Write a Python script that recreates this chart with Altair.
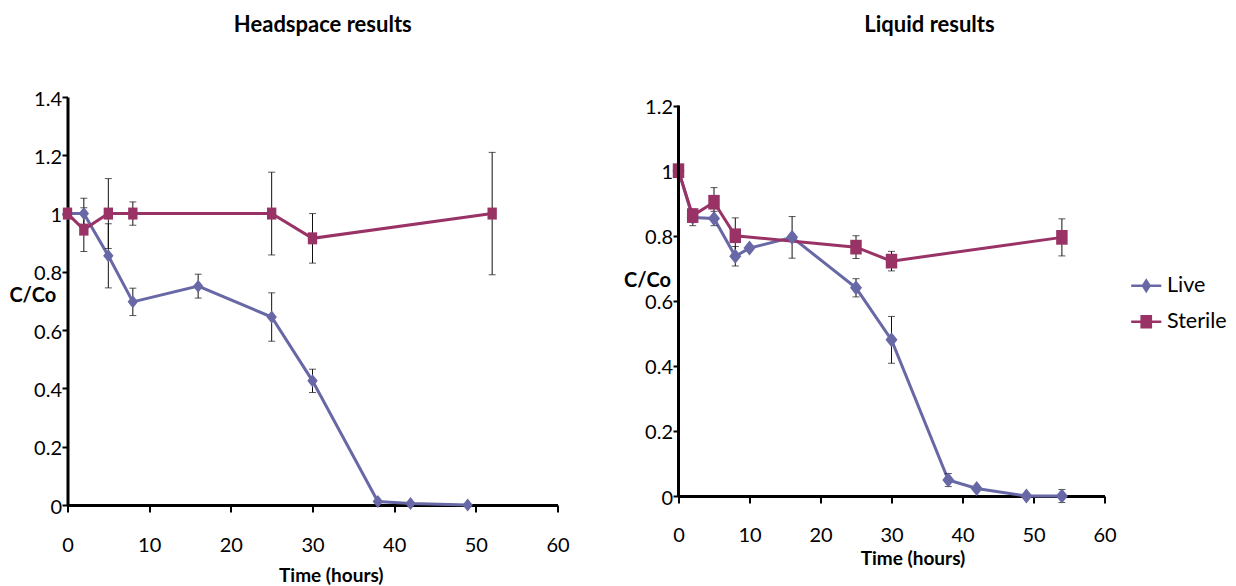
import altair as alt
import pandas as pd

# ---------------- data ----------------
# Headspace results
hs_live_t = [0, 2, 5, 8, 16, 25, 30, 38, 42, 49]
hs_live_v = [1.0, 1.0, 0.855, 0.697, 0.751, 0.645, 0.426, 0.012, 0.005, 0.0]
hs_live_e = [0, 0.053, 0.11, 0.047, 0.041, 0.083, 0.04, 0, 0, 0]
hs_ster_t = [0, 2, 5, 8, 25, 30, 52]
hs_ster_v = [1.0, 0.945, 1.0, 1.0, 1.0, 0.915, 1.0]
hs_ster_e = [0, 0.075, 0.12, 0.04, 0.142, 0.085, 0.21]

# Liquid results
lq_live_t = [0, 2, 5, 8, 10, 16, 25, 30, 38, 42, 49, 54]
lq_live_v = [1.0, 0.856, 0.853, 0.737, 0.762, 0.795, 0.64, 0.48, 0.049, 0.023, 0.0, 0.0]
lq_live_e = [0, 0.025, 0.022, 0.03, 0, 0.064, 0.028, 0.072, 0.02, 0, 0.005, 0.02]
lq_ster_t = [0, 2, 5, 8, 25, 30, 54]
lq_ster_v = [1.0, 0.862, 0.903, 0.80, 0.765, 0.722, 0.795]
lq_ster_e = [0.01, 0.02, 0.045, 0.055, 0.035, 0.03, 0.057]

series_names = ["Live", "Sterile"]
x_ticks = [0, 10, 20, 30, 40, 50, 60]
hs_y_ticks = [0, 0.2, 0.4, 0.6, 0.8, 1.0, 1.2, 1.4]
lq_y_ticks = [0, 0.2, 0.4, 0.6, 0.8, 1.0, 1.2]

# ---------------- styles ----------------
LIVE_C = "#6868A6"
STER_C = "#993366"
FONT = "Lato"
DIAMOND = "M0,-1L0.8,0L0,1L-0.8,0Z"
SQUARE = "M-0.78,-1H0.78V1H-0.78Z"
LEG_LIVE = "M-1.88,-0.17H-0.5L0,-0.94L0.5,-0.17H1.88V0.17H0.5L0,0.94L-0.5,0.17H-1.88Z"
LEG_STER = "M-1.88,-0.17H-0.73V-0.83H0.73V-0.17H1.88V0.17H0.73V0.83H-0.73V0.17H-1.88Z"


def frame(t, v, e, name):
    df = pd.DataFrame({"t": t, "v": v, "e": e})
    df["series"] = name
    df["lo"] = df["v"] - df["e"]
    df["hi"] = df["v"] + df["e"]
    return df


def panel(live, ster, width, height, ydom, yvals, title, title_dx, title_offset,
          x_label_pad, x_title_x, x_title_y, y_title_x, y_title_y,
          dsize, ssize, draw_axis_rule, with_legend):
    both = pd.concat([live, ster], ignore_index=True)
    errs = both[both["e"] > 0]
    xs = alt.X("t:Q", scale=alt.Scale(domain=[0, 60], nice=False),
               axis=alt.Axis(values=x_ticks, title="Time (hours)", tickSize=7,
                             labelPadding=x_label_pad, labelFlush=False,
                             titleX=x_title_x, titleY=x_title_y,
                             titleBaseline="middle", titleFontSize=19))
    ys = alt.Y("v:Q", scale=alt.Scale(domain=[0, ydom], nice=False, zero=False),
               axis=alt.Axis(values=yvals, format="~g", title="C/Co", tickSize=5.5,
                             labelPadding=0.5, labelFlush=False, labelOffset=2,
                             domain=not draw_axis_rule,
                             titleAngle=0, titleX=y_title_x, titleY=y_title_y,
                             titleAlign="center", titleBaseline="middle",
                             titleFontSize=20))

    line_live = alt.Chart(live).mark_line(strokeWidth=3, color=LIVE_C).encode(x=xs, y=ys)
    line_ster = alt.Chart(ster).mark_line(strokeWidth=3, color=STER_C).encode(
        x="t:Q", y="v:Q")
    err_rule = alt.Chart(errs).mark_rule(color="#111111", strokeWidth=1).encode(
        x="t:Q", y="lo:Q", y2="hi:Q")
    cap_lo = alt.Chart(errs).mark_tick(color="#111111", thickness=1, size=7,
                                       orient="horizontal").encode(x="t:Q", y="lo:Q")
    cap_hi = alt.Chart(errs).mark_tick(color="#111111", thickness=1, size=7,
                                       orient="horizontal").encode(x="t:Q", y="hi:Q")
    pt_live = alt.Chart(live).mark_point(shape=DIAMOND, filled=True, opacity=1,
                                         color=LIVE_C, size=dsize).encode(x="t:Q", y="v:Q")
    pt_ster = alt.Chart(ster).mark_point(shape=SQUARE, filled=True, opacity=1,
                                         color=STER_C, size=ssize).encode(x="t:Q", y="v:Q")
    layers = [line_live, line_ster, err_rule, cap_lo, cap_hi, pt_live, pt_ster]
    if draw_axis_rule:
        axis_rule = alt.Chart(pd.DataFrame({"k": [0]})).mark_rule(
            color="black", strokeWidth=3).encode(
            x=alt.value(0), y=alt.datum(0), y2=alt.datum(yvals[-1]))
        layers.append(axis_rule)
    if with_legend:
        leg = alt.Legend(title=None, orient="none", legendX=1068, legendY=178,
                         labelFont=FONT, labelFontSize=21.5, labelColor="black",
                         rowPadding=13, labelOffset=10, symbolSize=256,
                         symbolStrokeWidth=0, symbolOpacity=1)
        leg_layer = alt.Chart(both).mark_point(filled=True, size=256, opacity=0).encode(
            x="t:Q", y="v:Q",
            color=alt.Color("series:N",
                            scale=alt.Scale(domain=series_names, range=[LIVE_C, STER_C]),
                            legend=leg),
            shape=alt.Shape("series:N",
                            scale=alt.Scale(domain=series_names, range=[LEG_LIVE, LEG_STER]),
                            legend=leg))
        layers.append(leg_layer)
    return alt.layer(*layers).properties(
        width=width, height=height,
        title=alt.TitleParams(title, dx=title_dx, offset=title_offset, baseline="bottom",
                              font=FONT, fontSize=22, fontWeight="bold", color="black",
                              anchor="middle"))


hs = panel(frame(hs_live_t, hs_live_v, hs_live_e, "Live"),
           frame(hs_ster_t, hs_ster_v, hs_ster_e, "Sterile"),
           width=490, height=408, ydom=1.4, yvals=hs_y_ticks,
           title="Headspace results", title_dx=10.3, title_offset=30,
           x_label_pad=23.4, x_title_x=263.3, x_title_y=70,
           y_title_x=-35.2, y_title_y=198, dsize=169, ssize=144,
           draw_axis_rule=False, with_legend=False)

lq = panel(frame(lq_live_t, lq_live_v, lq_live_e, "Live"),
           frame(lq_ster_t, lq_ster_v, lq_ster_e, "Sterile"),
           width=426, height=399, ydom=1.2265, yvals=lq_y_ticks,
           title="Liquid results", title_dx=38, title_offset=38,
           x_label_pad=22.1, x_title_x=234, x_title_y=62,
           y_title_x=-31.5, y_title_y=183, dsize=225, ssize=216,
           draw_axis_rule=True, with_legend=True)

chart = alt.hconcat(hs, lq, spacing=54).properties(
    padding={"left": 8.5, "top": 14, "right": 0, "bottom": 0},
    background="white"
).configure_view(stroke=None).configure_axis(
    grid=False, domainColor="black", domainWidth=3, tickColor="black", tickWidth=2,
    labelFont=FONT, labelFontSize=20, labelColor="black",
    titleFont=FONT, titleFontWeight="bold", titleColor="black"
)

chart.save("out.html", embed_options={"renderer": "svg", "actions": False})
